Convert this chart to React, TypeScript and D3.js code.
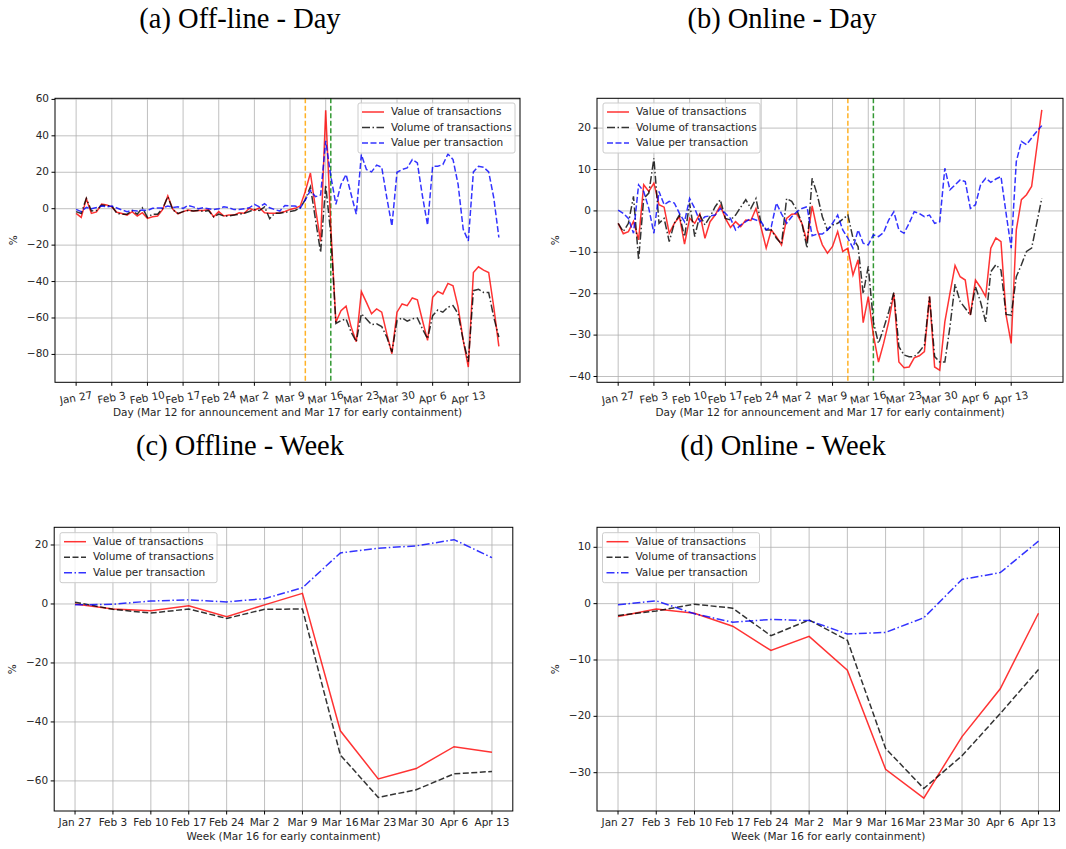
import * as d3 from "d3";

// tick labels (weekly, same for day and week panels)
const weekLabels = ["Jan 27", "Feb 3", "Feb 10", "Feb 17", "Feb 24", "Mar 2", "Mar 9", "Mar 16", "Mar 23", "Mar 30", "Apr 6", "Apr 13"];

// (a) Off-line - Day, Jan 27 .. Apr 19
const offDayValue = [
  -2.6, -4.8, 5.5, -2.6, -1.8, 2.5, 2, 1, -2, -2.6, -3.5, -1.6, -4, -2.2, -5.3, -4.4, -4, -0.4, 7, -0.4, -2.9,
  -1.6, -0.7, -1.2, -1, -1, -0.5, -4.5, -1.6, -4, -3.5, -3.5, -2.2, -2.5, 0.2, -1, 0.5, -2.2, -2.5, -2.5, -2.2,
  -1.5, -0.4, 0.2, 1.5, 9.5, 19.6, 0, -18, 54, -10, -62.3, -56, -53.5, -65, -73, -45.5, -51.4, -57.7, -55, -56.8,
  -68.7, -79.6, -56.8, -52.3, -53.2, -49, -50, -61.4, -72.3, -48.6, -45.4, -46.8, -41, -42.3, -54, -72.3, -86.9,
  -35, -31.9, -33.7, -35, -54, -75.6,
];
const offDayVolume = [
  -1.6, -2.6, 5.7, -1.3, -1, 2, 1.6, 1.5, -2.6, -3, -3, -1, -3, 0.5, -4.8, -3, -3, 0.2, 6.6, -0.7, -2.6,
  -1.6, -1, -1.3, -1, -1.5, -1, -4.5, -3, -4, -4, -3.5, -3, -2.5, -1.5, -0.5, -1, 1, -5.5, -2.5, -2.5,
  -2, -1.5, -1, 0.5, 5, 12, -6, -24, 13, -14, -63, -61.4, -60.5, -67.8, -73, -57.7, -60.5, -63.6, -63.2, -64.7,
  -70.5, -78.7, -61.4, -60, -61.7, -60.5, -60, -66, -71.4, -58.7, -55.6, -56.8, -54, -53.2, -57.7, -72.3, -84,
  -45, -44.2, -46, -46, -59.6, -70.5,
];
const offDayPer = [
  -0.4, -1.6, 0.7, 0, 0.7, 1.5, 1, 1.5, 0.4, -0.7, -1.6, -1, -1.3, -0.7, -1, 0.2, 0.4, 0.4, 1.5, 0.7, 1,
  0.2, 1.8, 1, 0, 0.5, 0, -0.5, 0, 1, 0.5, -0.5, -0.5, 0, 0.5, 2.4, 1, 2.7, 0.5, -0.5, -1.3,
  1.8, 1.5, 1.5, 0.3, 5, 10, 6.6, 7.5, 37.3, 18, 2.4, 13.3, 18.8, 7.8, -3, 29.7, 21.5, 20.2, 23.9, 22.8,
  6, -9.5, 20, 21.5, 22.4, 27, 25.1, 6.9, -9, 23.3, 23.3, 24.2, 30, 27, 13.3, -11.3, -17.7,
  20.2, 23.3, 22.8, 20.2, 6, -15.8,
];

// (b) Online - Day
const onDayValue = [
  -3, -5.5, -5, -2.5, -7, 6.3, 4.7, 6.7, 1.5, 0.9, -5.4, -3, -1.4, -8, -1.8, -3, -0.7, -6.6, -2.6, -1, 1.3,
  -1.8, -4, -2.6, -3.8, -2.2, -2.3, 0.6, -4, -9, -4.6, -6.2, -8.2, -1.8, -0.8, -0.7, -3, -7.4, 1.2, -4.6, -8.2,
  -10.2, -8.6, -5, -9.8, -9, -15.5, -11.8, -27, -20.7, -30, -36.5, -32, -26.8, -19.9, -36.5, -37.9, -37.7, -35.5, -35, -34,
  -20.7, -37.7, -38.5, -26.8, -19.9, -13.2, -15.9, -16.7, -25.2, -16.7, -18.5, -20.7, -9, -6.5, -7.4, -25.2, -32,
  -4.6, 2.7, 3.9, 5.9, 15.2, 24.4,
];
const onDayVolume = [
  -3, -5, -3, 3.5, -11.8, 3, 4.3, 12.7, -3, -1.8, -7.4, -3, -1, -6.2, 1.8, -6.2, -1, -3.4, -1.4, 1, 2.7,
  -1.8, -2.2, -1, 0.9, 2.7, 0.6, 3, -3, -4.6, -4.6, -6.6, -8, 3, 2.3, 0.2, -3, -9, 7.9, 3.9, -1.4,
  -4.6, -3.4, -3, -2, -1, -6.6, -8.6, -20, -13.4, -26.8, -32, -28.4, -24.4, -19.7, -32.8, -34.8, -35.2, -35.2, -34, -32.4,
  -20.7, -35.2, -36.5, -36.5, -28, -17.7, -21.9, -23.5, -25.2, -18.3, -22, -26.8, -14.7, -13, -14.3, -25, -25.2,
  -15.9, -13, -9.8, -9, -3, 3.1,
];
const onDayPer = [
  0.2, -0.6, -1.8, -5.4, 6.3, 4.7, 0.6, -5.4, 4.7, 1.5, 2.3, 1.9, -0.6, -2.6, 3, 0.6, -2.6, -1.4, -1.2, -1, 0.6,
  -0.6, -1.8, -4.6, -3.4, -2.6, -1.8, -2.2, -2.6, -4.6, -3.8, 1.9, -0.7, -3, -1.4, -0.2, 0.6, 1, -6, -5.6, -5.6,
  -4.6, -3, -1, -4.6, -6.6, -9, -4.6, -7.8, -8.2, -5.8, -6.2, -5.2, -2.2, -0.2, -4.6, -5.4, -3, -0.2, -0.6, -1.4,
  -1, -3, -2.6, 10.3, 5.1, 6.3, 7.5, 7.1, 0.6, 1.5, 6.3, 7.9, 6.9, 7.7, 8.3, -0.6, -9,
  11.9, 16.8, 16, 17.6, 19.2, 20.6,
];

// (c) Offline - Week
const offWeekValue = [0, -1.7, -2.3, -0.6, -4.3, -0.3, 3.6, -43, -59.3, -55.8, -48.4, -50.3];
const offWeekVolume = [0.6, -1.8, -3.1, -1.7, -4.9, -1.8, -1.7, -51.2, -65.6, -63, -57.6, -56.8];
const offWeekPer = [-0.3, -0.1, 1, 1.4, 0.7, 1.8, 5.5, 17.3, 18.9, 19.7, 21.8, 15.7];

// (d) Online - Week
const onWeekValue = [-2.3, -0.95, -1.7, -4, -8.3, -5.8, -11.8, -29.4, -34.5, -23.6, -15.1, -1.7];
const onWeekVolume = [-2.1, -1.3, -0.1, -0.8, -5.7, -2.9, -6.5, -25.7, -32.8, -27, -19.5, -11.7];
const onWeekPer = [-0.2, 0.5, -1.8, -3.3, -2.8, -3, -5.4, -5.1, -2.5, 4.3, 5.5, 11.1];

const seriesNames = ["Value of transactions", "Volume of transactions", "Value per transaction"];

const RED = "rgba(255,0,0,0.8)";
const BLACK = "rgba(0,0,0,0.8)";
const BLUE = "rgba(0,0,255,0.8)";
const DASH = "6,2.5";
const DASHDOT = "8,2.5,1.5,2.5";
const FONT = "DejaVu Sans";

type Series = { values: number[]; color: string; dash?: string };
type PanelProps = {
  left: number; right: number; top: number; bottom: number;
  xDomain: [number, number]; yDomain: [number, number]; yTicks: number[];
  tickStep: number; rotate: boolean; xLabel: string;
  series: Series[]; vlines?: { at: number; color: string }[];
  legendX: number; legendY: number;
};

function Panel(p: PanelProps) {
  const x = d3.scaleLinear().domain(p.xDomain).range([p.left, p.right]);
  const y = d3.scaleLinear().domain(p.yDomain).range([p.bottom, p.top]);
  const line = d3.line<number>().x((_, i) => x(i)).y((d) => y(d));
  const tickY = p.bottom + (p.rotate ? 16 : 11.5);
  const midX = (p.left + p.right) / 2;
  return (
    <g fontFamily={FONT}>
      {weekLabels.map((lab, i) => (
        <line key={"gx" + lab} x1={x(i * p.tickStep)} x2={x(i * p.tickStep)} y1={p.top} y2={p.bottom} stroke="#b0b0b0" strokeWidth={0.8} />
      ))}
      {p.yTicks.map((t) => (
        <line key={"gy" + t} x1={p.left} x2={p.right} y1={y(t)} y2={y(t)} stroke="#b0b0b0" strokeWidth={0.8} />
      ))}
      {(p.vlines || []).map((v) => (
        <line key={"v" + v.at} x1={x(v.at)} x2={x(v.at)} y1={p.top} y2={p.bottom} stroke={v.color} strokeWidth={1.5} strokeDasharray="5,2.5" />
      ))}
      {p.series.map((s, i) => (
        <path key={"s" + i} d={line(s.values) || ""} fill="none" stroke={s.color} strokeWidth={1.5} strokeDasharray={s.dash} />
      ))}
      <rect x={p.left} y={p.top} width={p.right - p.left} height={p.bottom - p.top} fill="none" stroke="#000" strokeWidth={1} />
      {weekLabels.map((lab, i) => {
        const xx = x(i * p.tickStep);
        return (
          <g key={"tx" + lab}>
            <line x1={xx} x2={xx} y1={p.bottom} y2={p.bottom + 3.5} stroke="#000" />
            <text x={xx} y={tickY} fontSize={10.5} fill="#262626" textAnchor="middle" dominantBaseline="middle"
              transform={p.rotate ? `rotate(-10,${xx},${tickY})` : undefined}>{lab}</text>
          </g>
        );
      })}
      {p.yTicks.map((t) => (
        <g key={"ty" + t}>
          <line x1={p.left - 3.5} x2={p.left} y1={y(t)} y2={y(t)} stroke="#000" />
          <text x={p.left - 6} y={y(t)} fontSize={10.5} fill="#262626" textAnchor="end" dominantBaseline="middle">
            {t < 0 ? "\u2212" + Math.abs(t) : String(t)}
          </text>
        </g>
      ))}
      <text x={midX} y={p.bottom + (p.rotate ? 31 : 25.5)} fontSize={10.5} fill="#262626" textAnchor="middle" dominantBaseline="middle">{p.xLabel}</text>
      <text x={p.left - 41} y={(p.top + p.bottom) / 2} fontSize={10.5} fill="#262626" textAnchor="middle" dominantBaseline="middle"
        transform={`rotate(-90,${p.left - 41},${(p.top + p.bottom) / 2})`}>%</text>
      <g>
        <rect x={p.legendX} y={p.legendY} width={157} height={50} rx={2} fill="rgba(255,255,255,0.8)" stroke="#cccccc" />
        {p.series.map((s, i) => {
          const yy = p.legendY + 9 + i * 15.5;
          return (
            <g key={"lg" + i}>
              <line x1={p.legendX + 4} x2={p.legendX + 26} y1={yy} y2={yy} stroke={s.color} strokeWidth={1.5} strokeDasharray={s.dash} />
              <text x={p.legendX + 33} y={yy} fontSize={10.5} fill="#262626" dominantBaseline="middle">{seriesNames[i]}</text>
            </g>
          );
        })}
      </g>
    </g>
  );
}

export default function App() {
  const dayLabel = "Day (Mar 12 for announcement and Mar 17 for early containment)";
  const weekLabel = "Week (Mar 16 for early containment)";
  const vlines = [
    { at: 45, color: "rgba(255,165,0,0.85)" },
    { at: 50, color: "rgba(0,128,0,0.8)" },
  ];
  const titleStyle = { fontFamily: "Liberation Serif", fontSize: 28.5, fill: "#000" };
  return (
    <div style={{ position: "absolute", left: 0, top: 0 }}>
      <svg width={1066} height={849} style={{ display: "block", background: "#fff" }}>
        <text x={240} y={28} textAnchor="middle" {...titleStyle}>(a) Off-line - Day</text>
        <text x={782} y={28} textAnchor="middle" {...titleStyle}>(b) Online - Day</text>
        <text x={240} y={455} textAnchor="middle" {...titleStyle}>(c) Offline - Week</text>
        <text x={783} y={455} textAnchor="middle" {...titleStyle}>(d) Online - Week</text>
        <Panel left={55} right={520} top={98.3} bottom={382.3} xDomain={[-4.15, 87.15]} yDomain={[-95.3, 60.6]}
          yTicks={[-80, -60, -40, -20, 0, 20, 40, 60]} tickStep={7} rotate xLabel={dayLabel} vlines={vlines}
          series={[{ values: offDayValue, color: RED }, { values: offDayVolume, color: BLACK, dash: DASHDOT }, { values: offDayPer, color: BLUE, dash: DASH }]}
          legendX={358} legendY={103} />
        <Panel left={597} right={1063} top={98.3} bottom={382.3} xDomain={[-4.15, 87.15]} yDomain={[-41.4, 27.2]}
          yTicks={[-40, -30, -20, -10, 0, 10, 20]} tickStep={7} rotate xLabel={dayLabel} vlines={vlines}
          series={[{ values: onDayValue, color: RED }, { values: onDayVolume, color: BLACK, dash: DASHDOT }, { values: onDayPer, color: BLUE, dash: DASH }]}
          legendX={603} legendY={103} />
        <Panel left={54.2} right={512.8} top={527.3} bottom={811} xDomain={[-0.55, 11.55]} yDomain={[-70.2, 26]}
          yTicks={[-60, -40, -20, 0, 20]} tickStep={1} rotate={false} xLabel={weekLabel}
          series={[{ values: offWeekValue, color: RED }, { values: offWeekVolume, color: BLACK, dash: DASH }, { values: offWeekPer, color: BLUE, dash: DASHDOT }]}
          legendX={60} legendY={532.7} />
        <Panel left={597} right={1059.5} top={527.3} bottom={811} xDomain={[-0.55, 11.55]} yDomain={[-36.8, 13.55]}
          yTicks={[-30, -20, -10, 0, 10]} tickStep={1} rotate={false} xLabel={weekLabel}
          series={[{ values: onWeekValue, color: RED }, { values: onWeekVolume, color: BLACK, dash: DASH }, { values: onWeekPer, color: BLUE, dash: DASHDOT }]}
          legendX={602.5} legendY={532.7} />
      </svg>
    </div>
  );
}
